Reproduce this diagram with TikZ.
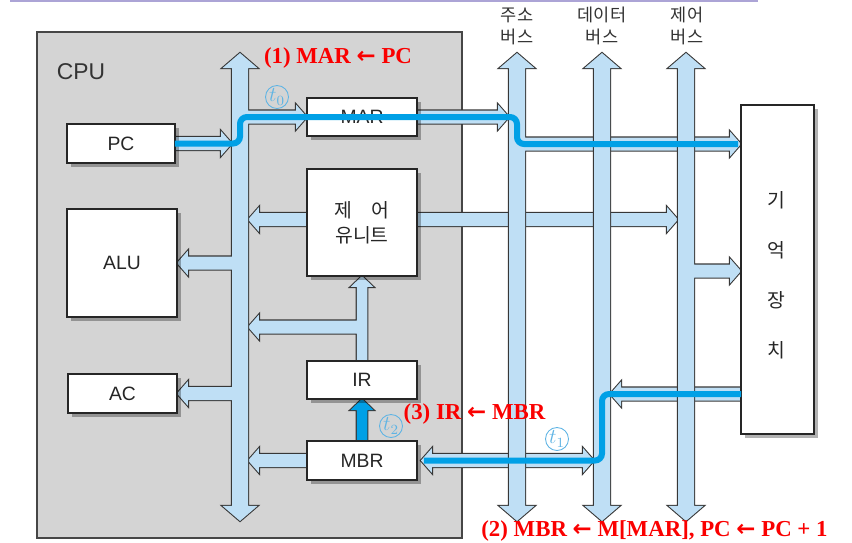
\documentclass[tikz,border=0pt]{standalone}
\usepackage{fontspec}
\setmainfont{Liberation Sans}
\newfontfamily\krfont{Noto Sans CJK KR}
\newfontfamily\rmlbl{Liberation Serif}
\newfontfamily\arrowfnt{DejaVu Sans}
\usepackage{tikz}
\usetikzlibrary{calc,shadows}
\definecolor{busBlue}{RGB}{191,223,245}
\definecolor{busLine}{RGB}{55,55,55}
\definecolor{hotBlue}{RGB}{0,160,230}
\definecolor{tBlue}{RGB}{95,180,228}
\definecolor{cpuGray}{RGB}{212,212,212}
\definecolor{cpuLine}{RGB}{70,70,70}
\definecolor{stepRed}{RGB}{250,0,0}
\definecolor{topLine}{RGB}{172,164,214}
\newcommand{\steparrow}{{\arrowfnt\bfseries ←}}
\pgfdeclarelayer{cpulayer}
\pgfdeclarelayer{buslayer}
\pgfsetlayers{cpulayer,buslayer,main}
\tikzset{
  bandhalf/.store in=\bandhalf, headhalf/.store in=\headhalf, headlen/.store in=\headlen,
  band/.style={bandhalf=0.13cm, headhalf=0.25cm, headlen=0.22cm,
    to path={($(\tikztostart)!\bandhalf!90:(\tikztotarget)$)
      -- ($(\tikztotarget)!\headlen!(\tikztostart)!\bandhalf!90:(\tikztotarget)$)
      -- ($(\tikztotarget)!\headlen!(\tikztostart)!\headhalf!90:(\tikztotarget)$)
      -- (\tikztotarget)
      -- ($(\tikztotarget)!\headlen!(\tikztostart)!\headhalf!-90:(\tikztotarget)$)
      -- ($(\tikztotarget)!\headlen!(\tikztostart)!\bandhalf!-90:(\tikztotarget)$)
      -- ($(\tikztostart)!\bandhalf!-90:(\tikztotarget)$) -- cycle}},
  dband/.style={bandhalf=0.13cm, headhalf=0.25cm, headlen=0.22cm,
    to path={(\tikztostart)
      -- ($(\tikztostart)!\headlen!(\tikztotarget)!\headhalf!90:(\tikztotarget)$)
      -- ($(\tikztostart)!\headlen!(\tikztotarget)!\bandhalf!90:(\tikztotarget)$)
      -- ($(\tikztotarget)!\headlen!(\tikztostart)!\bandhalf!90:(\tikztotarget)$)
      -- ($(\tikztotarget)!\headlen!(\tikztostart)!\headhalf!90:(\tikztotarget)$)
      -- (\tikztotarget)
      -- ($(\tikztotarget)!\headlen!(\tikztostart)!\headhalf!-90:(\tikztotarget)$)
      -- ($(\tikztotarget)!\headlen!(\tikztostart)!\bandhalf!-90:(\tikztotarget)$)
      -- ($(\tikztostart)!\headlen!(\tikztotarget)!\bandhalf!-90:(\tikztotarget)$)
      -- ($(\tikztostart)!\headlen!(\tikztotarget)!\headhalf!-90:(\tikztotarget)$)
      -- cycle}},
  vband/.style={band, bandhalf=0.105cm, headhalf=0.23cm, headlen=0.22cm},
  bus/.style={dband, bandhalf=0.16cm, headhalf=0.35cm, headlen=0.3cm},
  bandpath/.style={fill=busBlue, preaction={draw=busLine, line width=1.2pt, line join=miter}}
}

\begin{document}
\begin{tikzpicture}[x=0.02cm, y=-0.02cm]
\tikzstyle{box}=[draw=black!85, line width=0.9pt, fill=white, inner sep=0pt, outer sep=0pt, text=black!85, font=\fontsize{11}{13}\selectfont, drop shadow={shadow xshift=0.08cm, shadow yshift=-0.08cm, fill=black, opacity=0.3}]
\tikzstyle{rail}=[minimum width=0.32cm, minimum height=9.36cm, inner sep=0pt, outer sep=0pt]
\tikzstyle{buslabel}=[align=center, text=black!80, font=\krfont\fontsize{10}{12.5}\selectfont]
\tikzstyle{tmark}=[circle, draw=tBlue, text=tBlue, line width=0.5pt, inner sep=0pt, minimum size=0.46cm, font=\fontsize{12}{12}\selectfont]
\tikzstyle{steplabel}=[text=stepRed, anchor=base, inner sep=0pt, font=\rmlbl\bfseries\fontsize{13}{15}\selectfont]
\tikzstyle{hot}=[hotBlue, line width=0.12cm, rounded corners=0.14cm]

\useasboundingbox (0,0) rectangle (852,542);
\draw[topLine, line width=0.04cm] (10,1) -- (758,1);

\begin{pgfonlayer}{cpulayer}
\node[draw=cpuLine, fill=cpuGray, line width=0.9pt, minimum width=8.5cm, minimum height=10.12cm, inner sep=0pt] (cpu) at (249.5,285) {};
\end{pgfonlayer}
\node[text=black!80, font=\fontsize{13}{15}\selectfont] (cpuname) at (81,72) {CPU};

\node[box, minimum width=2.16cm, minimum height=0.78cm] (pc) at (121,143.5) {PC};
\node[box, minimum width=2.2cm, minimum height=0.76cm] (mar) at (362,117) {MAR};
\node[box, minimum width=2.2cm, minimum height=2.14cm, align=center, font=\krfont\fontsize{11}{14.2}\selectfont] (cu) at (362,222.5) {제\quad 어\\유니트};
\node[box, minimum width=2.2cm, minimum height=2.16cm] (alu) at (122,263) {ALU};
\node[box, minimum width=2.18cm, minimum height=0.78cm] (ac) at (122.5,393.5) {AC};
\node[box, minimum width=2.2cm, minimum height=0.76cm] (ir) at (362,380) {IR};
\node[box, minimum width=2.2cm, minimum height=0.78cm] (mbr) at (362,460.5) {MBR};
\node[box, minimum width=1.46cm, minimum height=6.58cm] (mem) at (777.5,269.5) {};
\node[align=center, text=black!85, font=\krfont\fontsize{11}{28.5}\selectfont] (memname) at (776.5,275) {기\\억\\장\\치};

\node[rail] (ibus) at (240,287) {};
\node[rail] (abus) at (517,287) {};
\node[rail] (dbus) at (602,287) {};
\node[rail] (cbus) at (686,287) {};
\node[buslabel] (alabel) at (517,26) {주소\\버스};
\node[buslabel] (dlabel) at (602,26) {데이터\\버스};
\node[buslabel] (clabel) at (687,26) {제어\\버스};

\coordinate (memin) at (741,144);
\coordinate (memctl) at (741,271);
\coordinate (memout) at (741,394);
\coordinate (irfork) at (362,327);
\coordinate (cuout) at ([yshift=0.06cm]cu.east);
\coordinate (cuin) at ([yshift=0.06cm]cu.west);
\coordinate (mbrout) at ([xshift=0.08cm]mbr.east);

\begin{pgfonlayer}{buslayer}
\path[bandpath] (pc.east) to[band] (ibus.west |- pc.east);
\path[bandpath] (cuin) to[band] (ibus.east |- cuin);
\path[bandpath] (mbr.west) to[band] (ibus.east |- mbr.west);
\path[bandpath] (mar.east) to[band] (abus.west |- mar.east);
\path[bandpath] (cuout) to[band] (cbus.west |- cuout);
\path[bandpath] (mbrout) to[dband] (dbus.west |- mbrout);
\path[bandpath] (memout) to[band] (dbus.east |- memout);
\path[bandpath] (ir.north) to[vband] (cu.south) (irfork) to[band] (ibus.east |- irfork);
\path[bandpath, fill=hotBlue] (mbr.north) to[vband] (ir.south);
\path[bandpath] (ibus.north) to[bus] (ibus.south)
  (ibus.center |- mar.west) to[band] (mar.west)
  (ibus.center |- alu.east) to[band] (alu.east)
  (ibus.center |- ac.east) to[band] (ac.east);
\path[bandpath] (abus.north) to[bus] (abus.south) (abus.center |- memin) to[band] (memin);
\path[bandpath] (dbus.north) to[bus] (dbus.south);
\path[bandpath] (cbus.north) to[bus] (cbus.south) (cbus.center |- memctl) to[band] (memctl);
\end{pgfonlayer}

\draw[hot] (pc.east) -- (ibus.center |- pc.east) -- (ibus.center |- mar.west) -- (abus.center |- mar.east) -- (abus.center |- memin) -- ([xshift=-0.06cm]memin);
\draw[hot] (memout) -- (dbus.center |- memout) -- (dbus.center |- mbr.east) -- ([xshift=0.14cm]mbr.east);

\node[tmark] (t0) at (277,97) {$t_0$};
\node[tmark] (t1) at (557,439) {$t_1$};
\node[tmark] (t2) at (391,426) {$t_2$};
\node[steplabel] (step1) at (338,63) {(1) MAR \steparrow\ PC};
\node[steplabel] (step3) at (474.5,419.5) {(3) IR \steparrow\ MBR};
\node[steplabel] (step2) at (654.5,536) {(2) MBR \steparrow\ M[MAR], PC \steparrow\ PC + 1};
\end{tikzpicture}
\end{document}
